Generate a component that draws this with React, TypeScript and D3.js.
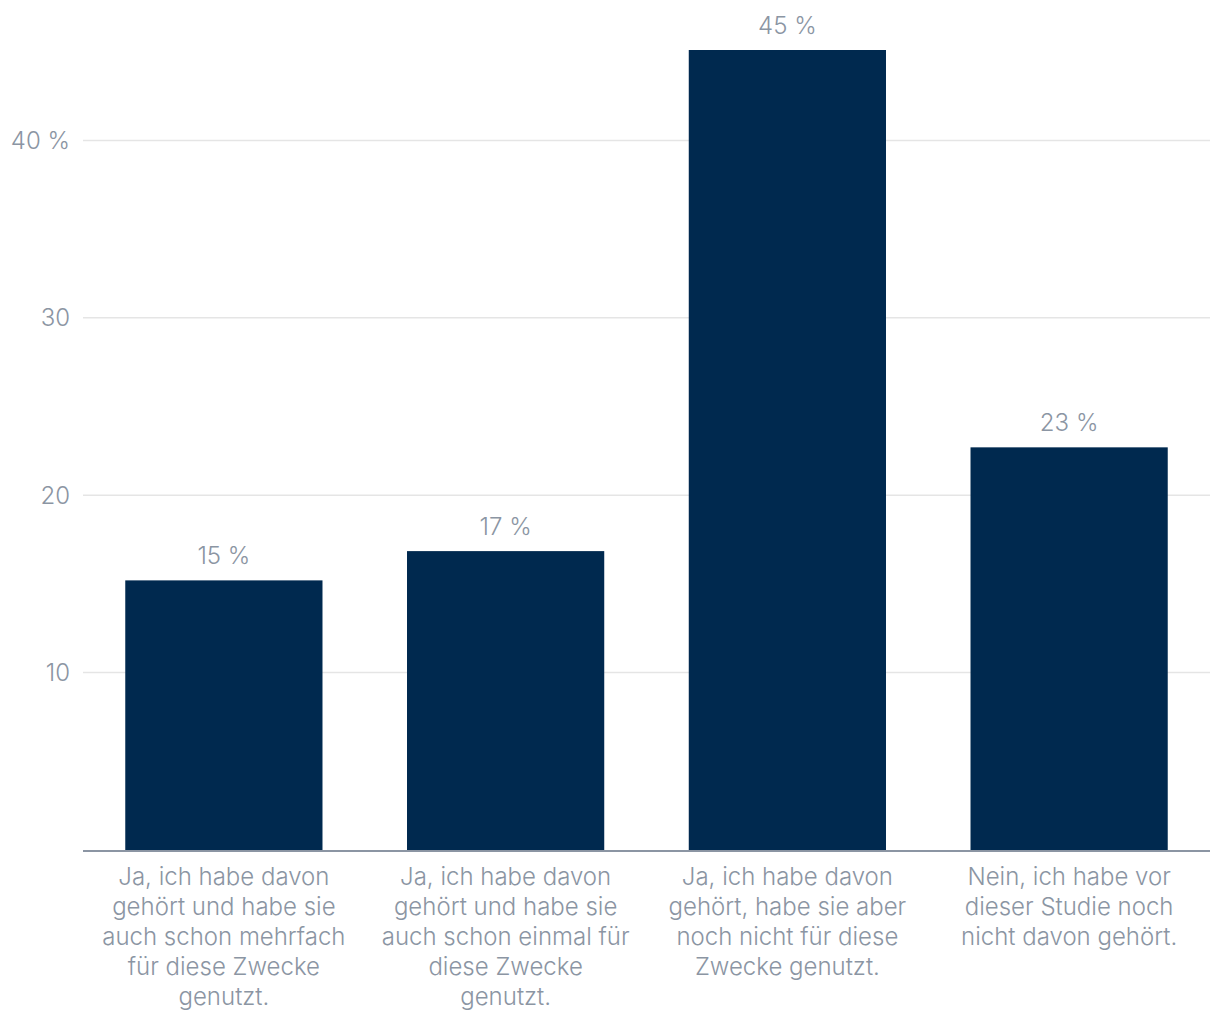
import * as d3 from 'd3';
import { useEffect, useRef } from 'react';

const categories = [
  'Ja, ich habe davon gehört und habe sie auch schon mehrfach für diese Zwecke genutzt.',
  'Ja, ich habe davon gehört und habe sie auch schon einmal für diese Zwecke genutzt.',
  'Ja, ich habe davon gehört, habe sie aber noch nicht für diese Zwecke genutzt.',
  'Nein, ich habe vor dieser Studie noch nicht davon gehört.',
];
const categoryLines = [
  ['Ja, ich habe davon', 'gehört und habe sie', 'auch schon mehrfach', 'für diese Zwecke', 'genutzt.'],
  ['Ja, ich habe davon', 'gehört und habe sie', 'auch schon einmal für', 'diese Zwecke', 'genutzt.'],
  ['Ja, ich habe davon', 'gehört, habe sie aber', 'noch nicht für diese', 'Zwecke genutzt.'],
  ['Nein, ich habe vor', 'dieser Studie noch', 'nicht davon gehört.'],
];
const values = [15.2, 16.85, 45.1, 22.7];
const valueLabels = ['15 %', '17 %', '45 %', '23 %'];
const yTicks = [10, 20, 30, 40];
const yTickLabels = ['10', '20', '30', '40 %'];

export default function App() {
  const ref = useRef<SVGSVGElement | null>(null);

  useEffect(() => {
    if (!ref.current) return;
    const svg = d3.select(ref.current);
    svg.selectAll('*').remove();

    const width = 1220;
    const height = 1020;
    const margin = { top: 50, right: 10, bottom: 170, left: 83 };
    const grey = '#8b95a3';
    const font = 'Inter, "Noto Sans", sans-serif';

    const x = d3
      .scaleBand<string>()
      .domain(categories)
      .range([margin.left, width - margin.right])
      .paddingInner(0.3)
      .paddingOuter(0.15);
    const y = d3
      .scaleLinear()
      .domain([0, 45.1])
      .range([height - margin.bottom, margin.top]);

    // Gridlines + tick labels
    const grid = svg.append('g');
    yTicks.forEach((t, i) => {
      grid
        .append('line')
        .attr('x1', margin.left)
        .attr('x2', width - margin.right)
        .attr('y1', y(t))
        .attr('y2', y(t))
        .attr('stroke', '#e5e5e5')
        .attr('stroke-width', 1.5);
      grid
        .append('text')
        .attr('x', 70)
        .attr('y', y(t))
        .attr('dy', '0.35em')
        .attr('text-anchor', 'end')
        .attr('fill', grey)
        .style('font-family', font)
        .style('font-weight', 300)
        .style('font-size', '24px')
        .text(yTickLabels[i]);
    });

    // Bars
    svg
      .append('g')
      .selectAll('rect')
      .data(values)
      .enter()
      .append('rect')
      .attr('x', (_, i) => x(categories[i]) || 0)
      .attr('y', (d) => y(d))
      .attr('width', x.bandwidth())
      .attr('height', (d) => y(0) - y(d))
      .attr('fill', '#00294f');

    // Value labels
    svg
      .append('g')
      .selectAll('text')
      .data(values)
      .enter()
      .append('text')
      .attr('x', (_, i) => (x(categories[i]) || 0) + x.bandwidth() / 2)
      .attr('y', (d) => y(d) - 16)
      .attr('text-anchor', 'middle')
      .attr('fill', grey)
      .style('font-family', font)
      .style('font-weight', 300)
      .style('font-size', '24px')
      .text((_, i) => valueLabels[i]);

    // Baseline
    svg
      .append('line')
      .attr('x1', margin.left)
      .attr('x2', width - margin.right)
      .attr('y1', y(0) + 1)
      .attr('y2', y(0) + 1)
      .attr('stroke', grey)
      .attr('stroke-width', 2);

    // Category labels
    categories.forEach((c, i) => {
      const t = svg
        .append('text')
        .attr('text-anchor', 'middle')
        .attr('fill', grey)
        .style('font-family', font)
        .style('font-weight', 300)
        .style('font-size', '24px');
      categoryLines[i].forEach((line, j) => {
        t.append('tspan')
          .attr('x', (x(c) || 0) + x.bandwidth() / 2)
          .attr('y', y(0) + 35 + j * 30)
          .text(line);
      });
    });
  }, []);

  return (
    <svg
      ref={ref}
      width={1220}
      height={1020}
      style={{ position: 'absolute', left: 0, top: 0, background: '#fff' }}
    />
  );
}
